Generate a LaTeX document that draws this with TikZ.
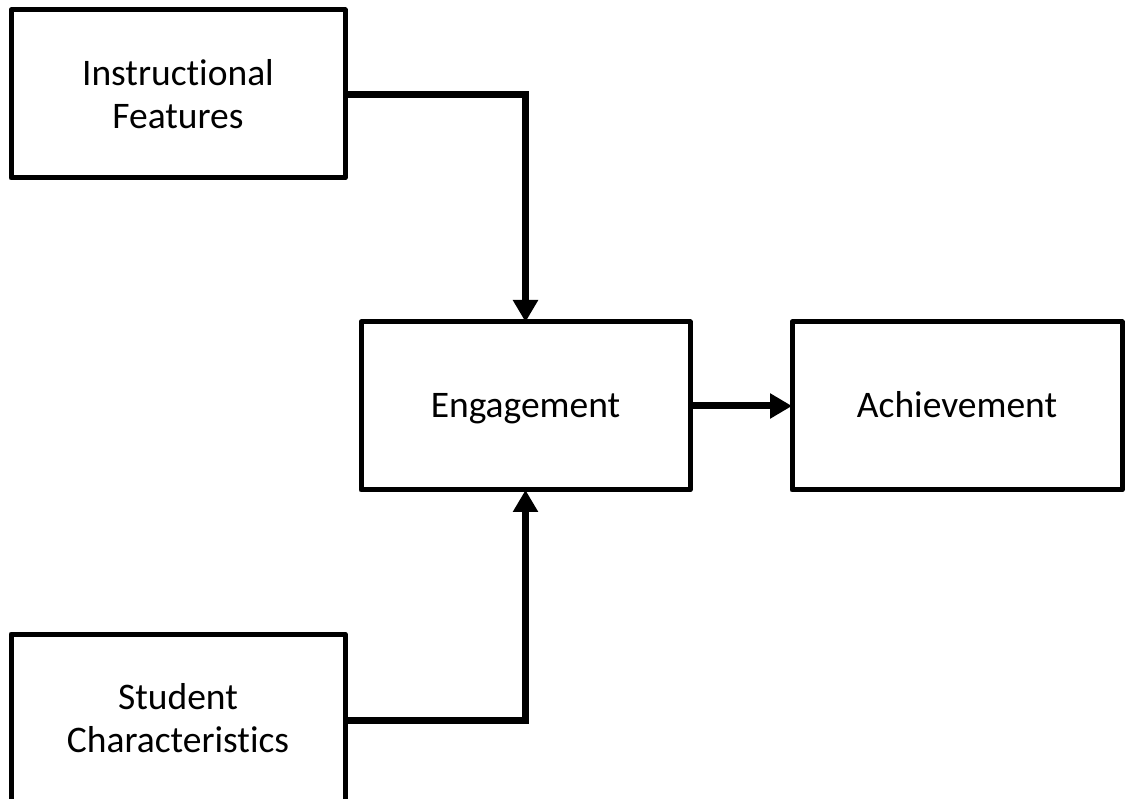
\documentclass[tikz,border=0pt]{standalone}
\usepackage{fontspec}
\setmainfont{Carlito}[Ligatures=NoCommon]
\usetikzlibrary{arrows.meta}
\tikzset{
  box/.style={draw=black, line width=5pt, line join=round, fill=white,
    minimum width=334pt, minimum height=168pt, inner sep=0pt, outer sep=0pt,
    align=center, font=\fontsize{37.5}{43.5}\selectfont},
  oneline/.style={text height=24pt, text depth=0pt},
  conn/.style={draw=black, line width=7pt, -{Triangle[length=22pt,width=24pt]}}
}
\begin{document}
\begin{tikzpicture}[x=1pt,y=-1pt]
\path[use as bounding box] (0,0) rectangle (1128,799);
\clip (0,0) rectangle (1128,799);
\fill[white] (0,0) rectangle (1128,799);
\node[box] (inst) at (178,94) {Instructional\\Features};
\node[box, oneline, minimum width=329pt] (eng) at (525.5,406) {Engagement};
\node[box, oneline, minimum width=330pt] (ach) at (957,406) {Achievement};
\node[box] (stud) at (178,718) {Student\\Characteristics};
\draw[conn] ([yshift=-1pt]inst.east) -| (eng.north);
\draw[conn] ([yshift=-2pt]stud.east) -| (eng.south);
\draw[conn] (eng.east) -- (ach.west);
\end{tikzpicture}
\end{document}
